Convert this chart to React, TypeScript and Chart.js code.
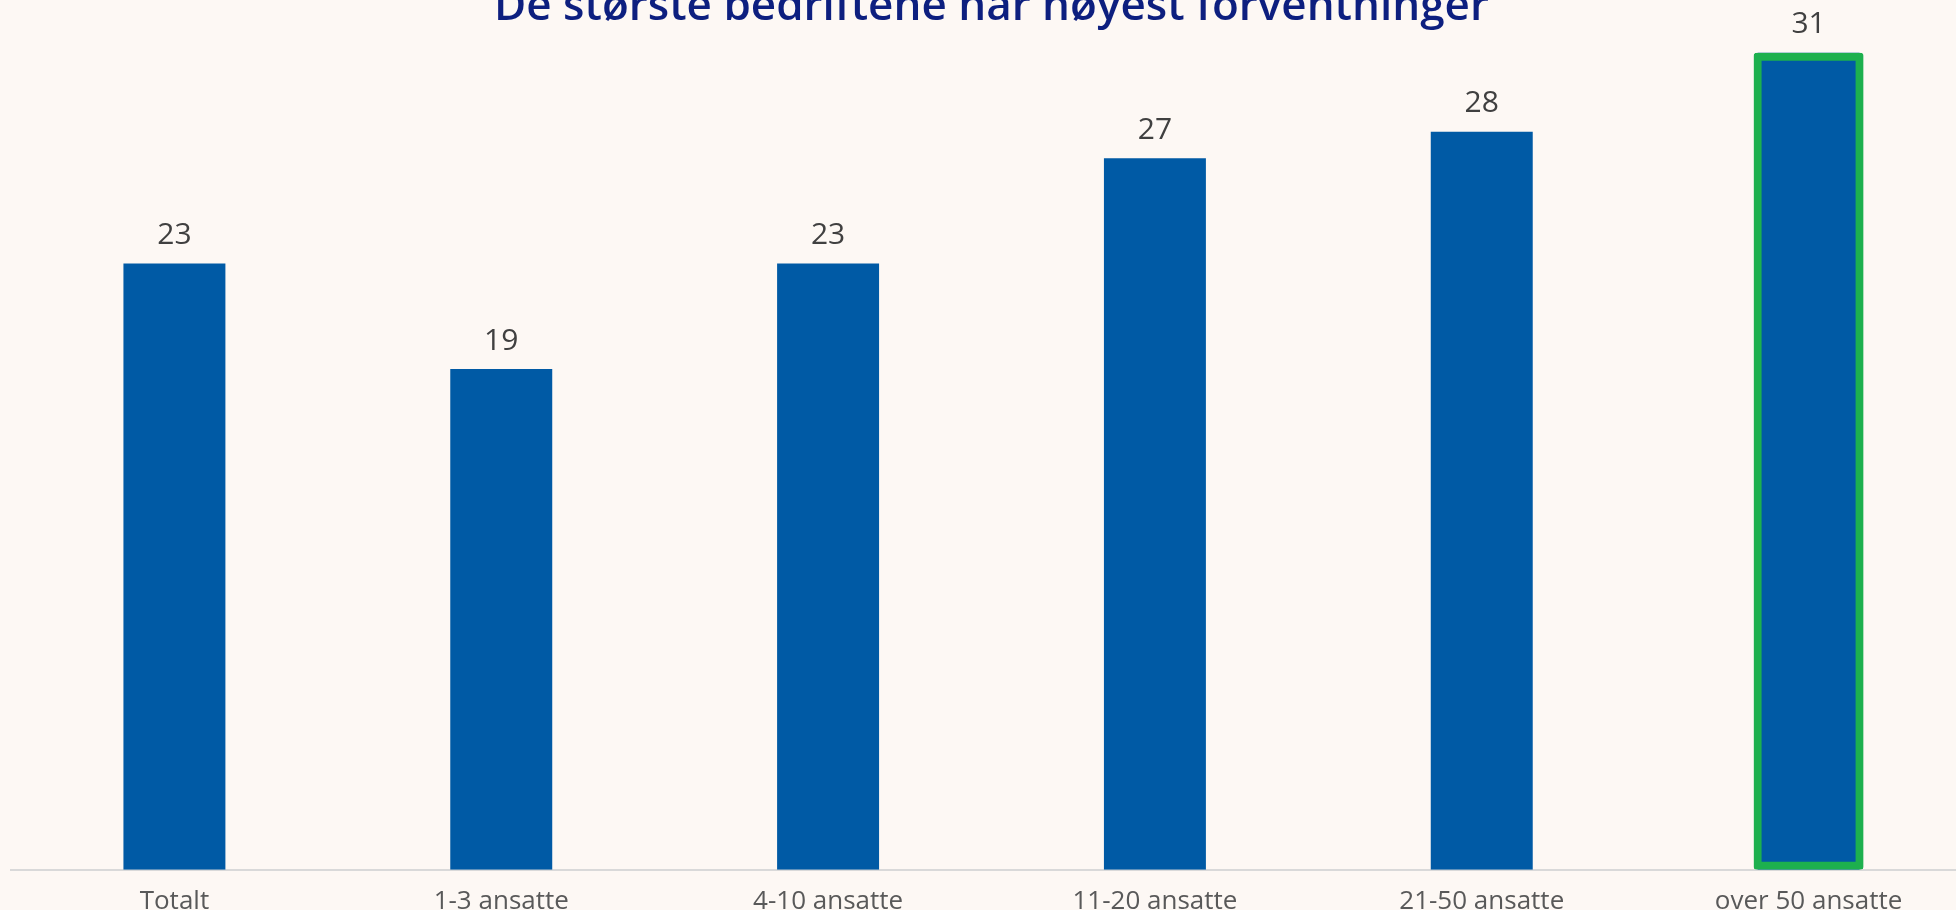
import React, { useEffect, useRef } from "react";
import { Chart, registerables } from "chart.js";

Chart.register(...registerables);

const categories = ["Totalt", "1-3 ansatte", "4-10 ansatte", "11-20 ansatte", "21-50 ansatte", "over 50 ansatte"];
const values = [23, 19, 23, 27, 28, 31];
const highlight = [null, null, null, null, null, 31];
const titleText = "De største bedriftene har høyest forventninger";

const BG = "#fdf8f4";
const BAR = "#005aa5";
const GREEN = "#1db04e";

const valueLabels = {
  id: "valueLabels",
  afterDatasetsDraw(chart: any) {
    const ctx = chart.ctx;
    const meta = chart.getDatasetMeta(0);
    ctx.save();
    ctx.font = "30px 'Open Sans'";
    ctx.fillStyle = "#404040";
    ctx.textAlign = "center";
    ctx.textBaseline = "middle";
    meta.data.forEach((bar: any, i: number) => {
      ctx.fillText(String(values[i]), bar.x, bar.y - 28);
    });
    ctx.restore();
  },
};

export default function App() {
  const ref = useRef<HTMLCanvasElement>(null);
  useEffect(() => {
    document.body.style.margin = "0";
    document.body.style.background = BG;
    const chart = new Chart(ref.current!, {
      type: "bar",
      data: {
        labels: categories,
        datasets: [
          {
            data: values,
            backgroundColor: BAR,
            borderWidth: 0,
            categoryPercentage: 1,
            barPercentage: 0.312,
            grouped: false,
            order: 2,
          },
          {
            data: highlight as any,
            backgroundColor: "rgba(0,0,0,0)",
            borderColor: GREEN,
            borderWidth: 8,
            borderRadius: 3,
            borderSkipped: false,
            categoryPercentage: 1,
            barPercentage: 0.3366,
            grouped: false,
            order: 1,
          },
        ],
      },
      options: {
        responsive: false,
        animation: false,
        layout: { padding: { left: 11, right: 8, top: 0, bottom: 8 } },
        plugins: {
          legend: { display: false },
          tooltip: { enabled: false },
          title: {
            display: true,
            text: titleText,
            color: "#0d1f7f",
            font: { family: "'Open Sans'", size: 44, weight: "600" as any, lineHeight: 0.85 },
            padding: { top: 29, bottom: 0 },
          },
        },
        scales: {
          x: {
            grid: { display: false, drawTicks: false },
            border: { display: true, color: "#d9d9d9", width: 2 },
            ticks: {
              color: "#595959",
              font: { family: "'Open Sans'", size: 26, lineHeight: 1.2 },
              padding: 16,
              maxRotation: 0,
              autoSkip: false,
            },
          },
          y: {
            display: false,
            min: 0,
            max: 32,
          },
        },
      },
      plugins: [valueLabels],
    });
    return () => chart.destroy();
  }, []);
  return (
    <div style={{ position: "fixed", left: 0, top: 0, width: 1956, height: 910, overflow: "hidden", background: BG }}>
      <canvas
        ref={ref}
        width={1980}
        height={981}
        style={{ position: "absolute", left: 0, top: -40, width: 1980, height: 981 }}
      />
    </div>
  );
}
